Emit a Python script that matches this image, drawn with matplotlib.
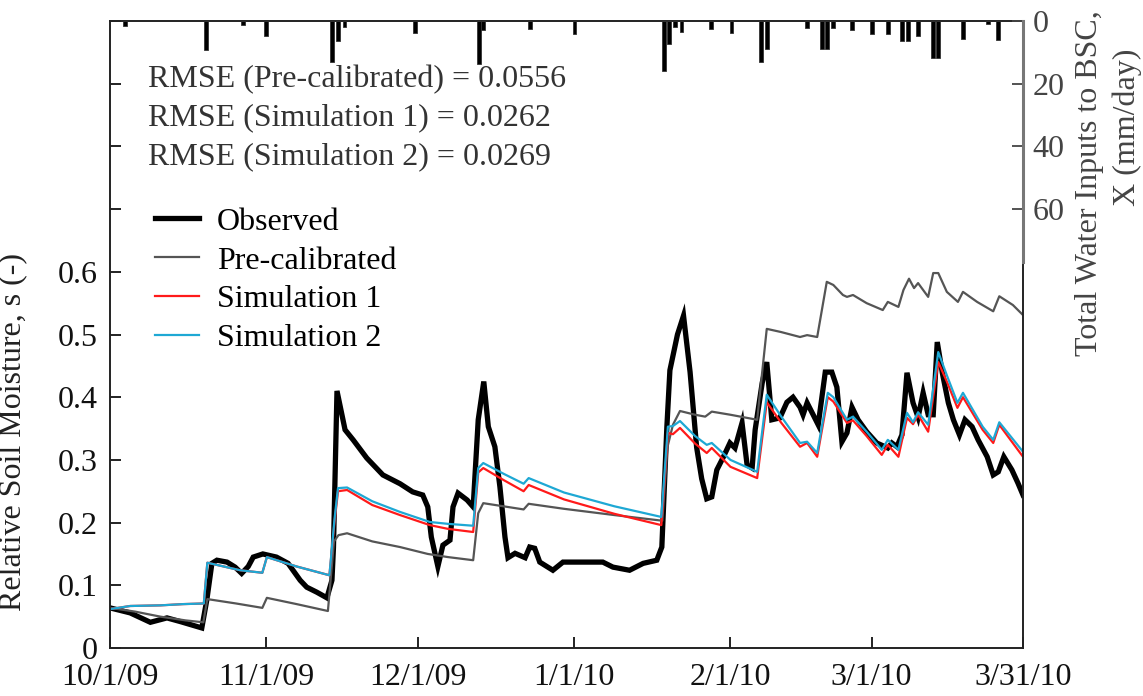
import numpy as np
import matplotlib
matplotlib.use("Agg")
import matplotlib.pyplot as plt

plt.rcParams['font.family'] = ['Liberation Serif', 'DejaVu Serif']

# ---- data (days since 1 Oct 2009) ----
obs_day = [0, 4, 8, 11.3, 14, 18.2, 19.2, 20.2, 21.2, 23.2, 24.8, 26.1, 27.4, 28.4, 30.3,
           33, 35.3, 37.7, 39, 41, 43, 44, 44.3, 45, 46.6, 48.2, 50.9, 54.1, 57.5, 60,
           62, 63, 63.7, 65, 66, 67.4, 68, 69, 70.8, 72, 73, 74.1, 75, 76.3, 77.3, 78.3,
           78.9, 80.3, 82.3, 83.2, 84.2, 85.2, 87.8, 89.8, 93.7, 97.7, 99.7, 103, 105.7,
           108.4, 109.4, 110.4, 111, 112.5, 113.7, 115, 116.3, 117.3, 118.3, 119.3, 120.3,
           121.5, 122.9, 123.9, 125.3, 126.3, 127.3, 127.9, 129.3, 130.2, 131.2, 132.8,
           134.2, 135.4, 136.8, 137.4, 138.2, 139.4, 140.4, 141.8, 143.1, 144.1, 145.1,
           146.1, 147.1, 148.3, 150, 152, 154.2, 155, 156, 157, 158, 159.2, 160.2, 161.2,
           162.2, 163.2, 164, 165, 166.2, 167.2, 168.4, 169.5, 170.9, 172.1, 173.9, 175.1,
           176.1, 177.2, 178.8, 180, 181]
obs_s = [0.064, 0.056, 0.041, 0.048, 0.042, 0.032, 0.077, 0.135, 0.140, 0.137, 0.129, 0.119,
         0.130, 0.145, 0.150, 0.145, 0.135, 0.108, 0.097, 0.089, 0.080, 0.108, 0.160, 0.410,
         0.348, 0.332, 0.303, 0.276, 0.262, 0.249, 0.244, 0.225, 0.177, 0.130, 0.164, 0.172,
         0.225, 0.247, 0.236, 0.225, 0.364, 0.425, 0.353, 0.321, 0.257, 0.177, 0.144, 0.151,
         0.144, 0.161, 0.159, 0.137, 0.124, 0.137, 0.137, 0.137, 0.129, 0.124, 0.135, 0.140,
         0.161, 0.353, 0.443, 0.500, 0.530, 0.440, 0.320, 0.270, 0.238, 0.241, 0.284, 0.303,
         0.327, 0.319, 0.359, 0.292, 0.287, 0.348, 0.423, 0.456, 0.364, 0.367, 0.392, 0.400,
         0.384, 0.372, 0.391, 0.372, 0.356, 0.440, 0.440, 0.416, 0.329, 0.343, 0.384, 0.364,
         0.345, 0.327, 0.319, 0.327, 0.321, 0.340, 0.439, 0.391, 0.368, 0.407, 0.372, 0.372,
         0.488, 0.439, 0.391, 0.364, 0.340, 0.364, 0.353, 0.332, 0.305, 0.276, 0.281, 0.305,
         0.284, 0.263, 0.244]

pre_day = [0, 5, 10, 15, 18.5, 19.3, 25, 30.2, 31.1, 37, 43.2, 44.4, 45.3, 47, 52, 57.5, 63,
           67, 72, 73, 74, 78, 82, 83, 90, 100, 109.5, 110.5, 111.6, 113, 116, 118, 119.3,
           123, 128.3, 130.2, 133, 136.8, 138.2, 140.2, 142.1, 143.4, 145.3, 146.1, 147.3,
           150, 153.2, 154.2, 156.3, 157.3, 158.4, 159.4, 160.2, 162.2, 163.2, 164.2, 165.9,
           168.1, 169.1, 171.9, 175.1, 176.3, 179, 181]
pre_s = [0.064, 0.058, 0.050, 0.044, 0.041, 0.078, 0.071, 0.064, 0.080, 0.070, 0.059, 0.170,
         0.180, 0.183, 0.170, 0.161, 0.150, 0.145, 0.140, 0.215, 0.231, 0.226, 0.221, 0.230,
         0.222, 0.212, 0.203, 0.320, 0.356, 0.378, 0.372, 0.369, 0.377, 0.372, 0.364, 0.509,
         0.504, 0.496, 0.499, 0.496, 0.584, 0.579, 0.563, 0.560, 0.563, 0.550, 0.539, 0.552,
         0.544, 0.571, 0.589, 0.574, 0.582, 0.560, 0.598, 0.598, 0.568, 0.552, 0.568, 0.552,
         0.537, 0.561, 0.547, 0.531]

sim_day = [0, 4, 10, 14.5, 18.6, 19.3, 25.8, 30.2, 31.1, 37, 43.5, 44.5, 45.2, 47, 52, 57.5,
           63.4, 67, 72, 73, 74, 78, 82, 83, 90, 100, 109.3, 110.6, 111.6, 113, 116, 118.3,
           119.3, 123, 128.3, 130.2, 133, 136.8, 138.2, 140.2, 142.3, 143.4, 146.1, 147.3,
           150, 153, 154.2, 156.3, 158, 159.2, 160.2, 162.2, 164.2, 165.9, 168, 169.1, 173,
           175.1, 176.3, 181]
sim1_s = [0.062, 0.067, 0.068, 0.070, 0.071, 0.136, 0.124, 0.120, 0.145, 0.130, 0.116, 0.200,
          0.250, 0.252, 0.228, 0.212, 0.196, 0.190, 0.185, 0.280, 0.287, 0.268, 0.250, 0.260,
          0.237, 0.214, 0.196, 0.343, 0.341, 0.351, 0.326, 0.311, 0.319, 0.289, 0.271, 0.392,
          0.360, 0.321, 0.327, 0.305, 0.400, 0.393, 0.359, 0.363, 0.338, 0.308, 0.324, 0.305,
          0.367, 0.357, 0.372, 0.345, 0.456, 0.425, 0.383, 0.400, 0.348, 0.327, 0.356, 0.305]
sim2_s = [0.062, 0.067, 0.068, 0.070, 0.071, 0.136, 0.124, 0.120, 0.145, 0.130, 0.116, 0.205,
          0.255, 0.256, 0.234, 0.217, 0.201, 0.198, 0.195, 0.287, 0.295, 0.278, 0.262, 0.271,
          0.248, 0.226, 0.209, 0.353, 0.354, 0.362, 0.338, 0.324, 0.327, 0.300, 0.281, 0.404,
          0.370, 0.327, 0.329, 0.311, 0.407, 0.400, 0.364, 0.369, 0.345, 0.316, 0.332, 0.316,
          0.375, 0.360, 0.376, 0.356, 0.472, 0.435, 0.391, 0.407, 0.353, 0.332, 0.360, 0.313]

rain_day = [2.9, 19.1, 26.4, 31.0, 44.0, 45.2, 46.5, 60.4, 73.1, 74.0, 83.2, 92.1, 109.8,
            110.8, 112.0, 113.3, 119.1, 123.2, 129.1, 130.2, 138.2, 141.2, 142.2, 143.4,
            147.1, 151.1, 154.3, 157.0, 158.2, 160.2, 163.1, 164.1, 169.1, 174.0, 176.1]
rain_mm = [1.5, 9.2, 1.3, 4.7, 13.0, 6.4, 1.8, 3.8, 13.8, 2.9, 2.5, 4.2, 16.0, 7.4, 1.8, 3.5,
           2.5, 3.9, 13.1, 8.9, 2.3, 8.9, 8.9, 2.3, 2.9, 4.2, 4.2, 6.5, 6.4, 4.7, 11.7, 11.7,
           5.7, 0.8, 6.0]

tick_dates = ['2009-10-01', '2009-11-01', '2009-12-01', '2010-01-01',
              '2010-02-01', '2010-03-01', '2010-03-31']
tick_labels = ['10/1/09', '11/1/09', '12/1/09', '1/1/10', '2/1/10', '3/1/10', '3/31/10']

rmse_lines = ['RMSE (Pre-calibrated) = 0.0556',
              'RMSE (Simulation 1) = 0.0262',
              'RMSE (Simulation 2) = 0.0269']

# ---- figure ----
FS = 23
fig = plt.figure(figsize=(11.43, 6.96), dpi=100)
ax = fig.add_axes([110 / 1143, 48 / 696, 913 / 1143, 627 / 696])

start = np.datetime64('2009-10-01')
tick_pos = (np.array(tick_dates, dtype='datetime64[D]') - start).astype(int)

ax.plot(obs_day, obs_s, color='black', lw=3.8, solid_joinstyle='miter', label='Observed')
ax.plot(pre_day, pre_s, color='#555555', lw=1.6, label='Pre-calibrated')
ax.plot(sim_day, sim1_s, color='#ff1a1a', lw=1.6, label='Simulation 1')
ax.plot(sim_day, sim2_s, color='#1ea8d4', lw=1.6, label='Simulation 2')

ax.set_xlim(tick_pos[0], tick_pos[-1])
ax.set_ylim(0, 1.0)
ax.set_xticks(tick_pos)
ax.set_xticklabels(tick_labels)
yt = np.round(np.arange(0, 1.01, 0.1), 1)
ax.set_yticks(yt)
ax.set_yticklabels(['0' if v == 0 else (f'{v:g}' if v <= 0.6 + 1e-9 else '') for v in yt])
ax.tick_params(axis='both', direction='in', length=8, width=1.3, labelsize=FS,
               colors='#111111')
ax.tick_params(axis='y', right=True, pad=9)
ax.tick_params(axis='x', pad=11)
for sp in ax.spines.values():
    sp.set_linewidth(1.4)
    sp.set_color('#222222')

ax.set_ylabel('Relative Soil Moisture, s (-)', fontsize=FS, color='#222222')
ax.yaxis.set_label_coords(-0.091, 0.345)

for i, t in enumerate(rmse_lines):
    ax.text(0.0416, 0.906 - i * 0.061, t, transform=ax.transAxes, fontsize=FS,
            va='center', ha='left', color='#333333')

leg = ax.legend(loc='upper left', bbox_to_anchor=(0.049, 0.703), frameon=False,
                fontsize=FS, handlelength=1.4, handletextpad=0.55, labelspacing=0.3,
                borderaxespad=0, borderpad=0)

# ---- water inputs on the inverted right axis ----
ax2 = ax.twinx()
ax2.bar(rain_day, rain_mm, width=0.75, color='black', edgecolor='#333333', linewidth=0.6)
ax2.set_ylim(200, 0)
ax2.set_yticks([0, 20, 40, 60])
ax2.tick_params(axis='y', direction='in', length=8, width=1.3, labelsize=FS, pad=7,
                colors='#444444')
ax2.spines['right'].set_bounds(0, 77)
ax2.spines['right'].set_color('#777777')
ax2.spines['right'].set_linewidth(2.2)
for s in ['left', 'top', 'bottom']:
    ax2.spines[s].set_visible(False)

fig.text(1090 / 1143, 1 - 183 / 696, 'Total Water Inputs to BSC,', rotation=90,
         fontsize=FS, ha='center', va='center', color='#444444')
fig.text(1127 / 1143, 1 - 127 / 696, 'X (mm/day)', rotation=90,
         fontsize=FS, ha='center', va='center', color='#444444')

fig.savefig('out.png', dpi=100)
